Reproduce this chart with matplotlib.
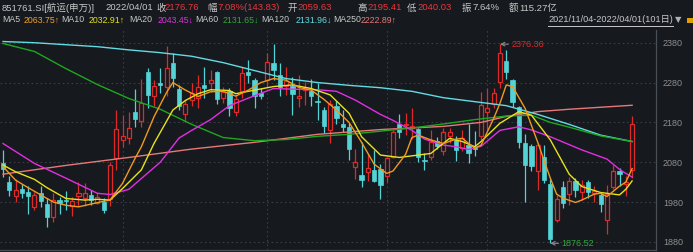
import matplotlib
matplotlib.use("Agg")
import matplotlib.pyplot as plt
from matplotlib.lines import Line2D
from matplotlib.patches import Rectangle

# daily candles 2021/11/04 - 2022/04/01 (101 days)
opens = [2079, 2031, 1996, 2014, 2006, 1968, 2002, 1974, 1943, 1985,
         1986, 1970, 1994, 1990, 1998, 1978, 1981, 1988, 2090, 2137,
         2142, 2207, 2184, 2307, 2247, 2278, 2270, 2330, 2263, 2201,
         2237, 2242, 2273, 2279, 2306, 2242, 2258, 2206, 2258, 2306,
         2287, 2254, 2286, 2328, 2299, 2272, 2272, 2242, 2262, 2258,
         2234, 2210, 2162, 2220, 2175, 2169, 2067, 2049, 2056, 2060,
         2062, 2046, 2094, 2175, 2173, 2167, 2163, 2086, 2094, 2134,
         2107, 2145, 2136, 2115, 2123, 2118, 2145, 2205, 2225, 2282,
         2335, 2286, 2219, 2128, 2120, 2058, 2092, 2026, 1935, 2019,
         2000, 2033, 2006, 2031, 2004, 1997, 1935, 2018, 2057, 2025,
         2059.63]
highs = [2111, 2045, 2037, 2025, 2020, 2006, 2021, 1989, 2004, 1992,
         2008, 1992, 2031, 2028, 2011, 2004, 1989, 2081, 2211, 2199,
         2205, 2263, 2288, 2316, 2286, 2316, 2372, 2355, 2274, 2235,
         2279, 2300, 2318, 2312, 2310, 2270, 2266, 2249, 2318, 2337,
         2291, 2266, 2354, 2377, 2330, 2320, 2293, 2299, 2282, 2290,
         2280, 2219, 2235, 2234, 2211, 2178, 2112, 2132, 2100, 2110,
         2076, 2094, 2160, 2200, 2203, 2215, 2167, 2104, 2161, 2144,
         2167, 2165, 2145, 2160, 2176, 2158, 2256, 2267, 2267, 2376.36,
         2362, 2288, 2222, 2152, 2126, 2128, 2123, 2037, 1998, 2033,
         2043, 2040, 2035, 2036, 2020, 2006, 2023, 2073, 2065, 2045,
         2195.41]
lows = [2044, 1994, 1981, 1989, 1950, 1960, 1968, 1918, 1931, 1950,
        1960, 1945, 1970, 1970, 1973, 1975, 1952, 1970, 2060, 2119,
        2125, 2169, 2169, 2215, 2221, 2253, 2245, 2270, 2210, 2180,
        2220, 2215, 2240, 2256, 2226, 2228, 2195, 2196, 2240, 2279,
        2216, 2238, 2268, 2286, 2245, 2249, 2199, 2219, 2224, 2220,
        2186, 2153, 2129, 2175, 2155, 2086, 2038, 2017, 2033, 2031,
        1988, 2030, 2090, 2140, 2148, 2138, 2081, 2061, 2086, 2112,
        2098, 2128, 2084, 2109, 2078, 2096, 2136, 2160, 2217, 2267,
        2288, 2218, 2115, 1980, 2058, 2011, 2027, 1876.52, 1930, 1966,
        1972, 1992, 1985, 1989, 1981, 1956, 1901, 2012, 2020, 1994,
        2040.03]
closes = [2062, 2010, 2010, 2002, 1994, 1998, 1983, 1943, 1985, 1977,
          1983, 1982, 2003, 2004, 1984, 1992, 1960, 2073, 2164, 2146,
          2165, 2188, 2228, 2249, 2271, 2275, 2316, 2291, 2222, 2226,
          2255, 2268, 2266, 2287, 2238, 2257, 2215, 2238, 2304, 2298,
          2245, 2246, 2331, 2312, 2270, 2285, 2251, 2245, 2270, 2245,
          2230, 2170, 2226, 2190, 2169, 2112, 2081, 2036, 2065, 2034,
          2023, 2090, 2157, 2157, 2177, 2171, 2094, 2082, 2132, 2120,
          2157, 2157, 2110, 2140, 2102, 2112, 2224, 2215, 2253, 2353,
          2307, 2232, 2132, 2074, 2070, 2122, 2035, 1888, 1987, 1978,
          2034, 2010, 2022, 2006, 2008, 1976, 2000, 2057, 2050, 2030,
          2176.76]

# moving averages (day index, value)
ma5_x = [0, 2, 4, 6, 8, 10, 12, 14, 16, 17, 19, 21, 22, 24, 26, 27, 29, 31, 33, 35,
         37, 39, 41, 43, 45, 47, 49, 51, 53, 55, 57, 59, 61, 62, 64, 65, 66, 68, 70, 72,
         73, 75, 76, 78, 79, 80, 81, 83, 85, 87, 88, 89, 91, 92, 94, 95, 96, 98, 99, 100]
ma5_y = [2069, 2035, 2016, 1998, 1980, 1972, 1968, 1975, 1982, 1985, 2027, 2090, 2119, 2194, 2255, 2280, 2261, 2245, 2257, 2258,
         2246, 2261, 2280, 2290, 2286, 2268, 2261, 2238, 2211, 2180, 2130, 2075, 2052, 2058, 2100, 2142, 2148, 2136, 2127, 2138,
         2140, 2115, 2123, 2190, 2228, 2274, 2270, 2215, 2130, 2040, 2000, 1990, 1979, 1985, 2000, 2002, 1994, 2020, 2030, 2064]
ma10_x = [0, 2, 5, 7, 10, 13, 15, 17, 19, 22, 24, 27, 29, 31, 33, 36, 37, 39, 41, 43,
          46, 49, 52, 55, 57, 60, 63, 65, 68, 71, 73, 75, 76, 79, 82, 84, 87, 90, 92, 95,
          98, 99, 100]
ma10_y = [2073, 2056, 2037, 2016, 1989, 1985, 1987, 1985, 2014, 2061, 2127, 2211, 2235, 2252, 2262, 2260, 2252, 2258, 2264, 2270,
          2274, 2265, 2249, 2203, 2144, 2098, 2092, 2096, 2102, 2140, 2132, 2119, 2132, 2178, 2207, 2198, 2136, 2050, 2019, 2004,
          1998, 2012, 2033]
ma20_x = [0, 5, 10, 15, 17, 20, 25, 28, 30, 33, 36, 39, 43, 47, 50, 53, 56, 58, 60, 62,
          65, 67, 70, 72, 74, 76, 79, 82, 84, 87, 92, 96, 98, 99, 100]
ma20_y = [2127, 2077, 2040, 2002, 1999, 2012, 2080, 2141, 2160, 2187, 2222, 2241, 2265, 2263, 2262, 2258, 2236, 2218, 2200, 2185,
          2160, 2138, 2123, 2119, 2112, 2120, 2160, 2169, 2161, 2144, 2111, 2088, 2062, 2052, 2043]
ma60_x = [0, 5, 10, 15, 20, 25, 30, 35, 40, 45, 50, 55, 60, 65, 70, 75, 80, 84, 87, 90, 95, 100]
ma60_y = [2378, 2358, 2315, 2275, 2240, 2213, 2175, 2142, 2134, 2137, 2145, 2150, 2158, 2166, 2176, 2187, 2196, 2198, 2180, 2168, 2146, 2132]
ma120_x = [0, 5, 10, 15, 20, 25, 30, 35, 40, 45, 50, 55, 60, 65, 70, 75, 80, 85, 90, 95, 100]
ma120_y = [2383, 2380, 2375, 2370, 2362, 2355, 2346, 2330, 2310, 2290, 2280, 2273, 2267, 2258, 2242, 2232, 2222, 2200, 2175, 2148, 2132]
ma250_x = [0, 10, 20, 30, 40, 50, 60, 70, 76, 80, 85, 90, 95, 100]
ma250_y = [2050, 2072, 2092, 2113, 2130, 2150, 2162, 2170, 2180, 2195, 2207, 2213, 2218, 2223]

yticks = [1880, 1980, 2080, 2180, 2280, 2380]
month_starts = [19, 42, 61, 77]

bg = "#16191e"
up_color = "#e02a2a"
down_color = "#53d3d6"
plt.rcParams["font.family"] = ["Liberation Sans", "Noto Sans CJK SC", "DejaVu Sans"]

fig = plt.figure(figsize=(6.93, 2.52), dpi=100, facecolor=bg)
ax = fig.add_axes([0, 2 / 252, 656 / 693, 220 / 252], facecolor=bg)

# candles
for i in range(len(opens)):
    o, h, l, c = opens[i], highs[i], lows[i], closes[i]
    lo_b, hi_b = min(o, c), max(o, c)
    body = max(hi_b - lo_b, 1.2)
    if c >= o:
        ax.vlines(i, hi_b, h, color=up_color, lw=0.9, zorder=2)
        ax.vlines(i, l, lo_b, color=up_color, lw=0.9, zorder=2)
        ax.add_patch(Rectangle((i - 0.32, lo_b), 0.64, body, facecolor=bg,
                               edgecolor=up_color, lw=0.9, zorder=3))
    else:
        ax.vlines(i, l, h, color=down_color, lw=0.9, zorder=2)
        ax.add_patch(Rectangle((i - 0.34, lo_b), 0.68, body, facecolor=down_color,
                               edgecolor=down_color, lw=0.5, zorder=3))

# moving averages
ax.plot(ma250_x, ma250_y, color="#e87878", lw=1.0, zorder=4)
ax.plot(ma120_x, ma120_y, color="#62dbe3", lw=1.0, zorder=4)
ax.plot(ma60_x, ma60_y, color="#1ea81e", lw=1.0, zorder=4)
ax.plot(ma20_x, ma20_y, color="#e22fe2", lw=1.0, zorder=5)
ax.plot(ma10_x, ma10_y, color="#e6e31a", lw=1.0, zorder=5)
ax.plot(ma5_x, ma5_y, color="#f09a1e", lw=1.0, zorder=5)

# high / low markers
ax.annotate("2376.36", xy=(79, 2376.36), xytext=(8, 0), textcoords="offset points",
            va="center", ha="left", color=up_color, fontsize=6.5,
            arrowprops=dict(arrowstyle="->", color="#8a8a8a", lw=0.8, shrinkA=0, shrinkB=0))
ax.annotate("1876.52", xy=(87, 1876.52), xytext=(8, 0), textcoords="offset points",
            va="center", ha="left", color="#2ea83a", fontsize=6.5,
            arrowprops=dict(arrowstyle="->", color="#8a8a8a", lw=0.8, shrinkA=0, shrinkB=0))

ax.set_xlim(-0.477, 103.8)
ax.set_ylim(1859.7, 2411.9)
ax.set_yticks(yticks)
ax.set_xticks([])
ax.yaxis.tick_right()
ax.tick_params(axis="y", length=0, pad=5, labelsize=6.5, labelcolor="#8e8e8e")
ax.grid(axis="y", color="#3a3e45", linestyle=(0, (1.5, 2.5)), lw=0.8)
for m in month_starts:
    ax.axvline(m, color="#3a3e45", linestyle=(0, (1.5, 2.5)), lw=0.8, zorder=0)
for s in ["top", "left"]:
    ax.spines[s].set_visible(False)
for s in ["right", "bottom"]:
    ax.spines[s].set_color("#4a4e55")
    ax.spines[s].set_linewidth(0.9)

# header rows
label_c = "#c8c8c8"
red_c = "#e8383d"
row1 = [(2, "851761.SI[航运(申万)]", label_c), (105, "2022/04/01", label_c),
        (156, "收", label_c), (164, "2176.76", red_c),
        (207, "幅", label_c), (217, "7.08%(143.83)", red_c),
        (287, "开", label_c), (297, "2059.63", red_c),
        (357, "高", label_c), (367, "2195.41", red_c),
        (407, "低", label_c), (417, "2040.03", red_c),
        (462, "振", label_c), (472, "7.64%", label_c),
        (509, "额", label_c), (519, "115.27亿", label_c)]
row2 = [(2, "MA5", label_c), (24, "2063.75↑", "#f0a030"),
        (61, "MA10", label_c), (89, "2032.91↑", "#e6e31a"),
        (129, "MA20", label_c), (158, "2043.45↓", "#e22fe2"),
        (195, "MA60", label_c), (223, "2131.65↓", "#2ea83a"),
        (261, "MA120", label_c), (296, "2131.96↓", "#62dbe3"),
        (333, "MA250", label_c), (361, "2222.89↑", "#e87878")]
for x, t, c in row1:
    fig.text(x / 693, 1 - 8 / 252, t, color=c, fontsize=6.8, ha="left", va="center")
for x, t, c in row2:
    fig.text(x / 693, 1 - 20 / 252, t, color=c, fontsize=6.3, ha="left", va="center")

fig.text(548 / 693, 1 - 20 / 252, "2021/11/04-2022/04/01(101日)", color=label_c,
         fontsize=6.6, ha="left", va="center")
fig.add_artist(Line2D([548 / 693, 673 / 693], [1 - 26 / 252, 1 - 26 / 252],
                      color=label_c, lw=0.7))
fig.text(675 / 693, 1 - 20 / 252, "▼", color="#b0b0b0", fontsize=6,
         ha="left", va="center", family=["DejaVu Sans"])
fig.add_artist(Rectangle((687 / 693, 1 - 23 / 252), 6 / 693, 5 / 252,
                         facecolor="#e0a000", edgecolor="none"))

fig.savefig("out.png", dpi=100, facecolor=bg)
